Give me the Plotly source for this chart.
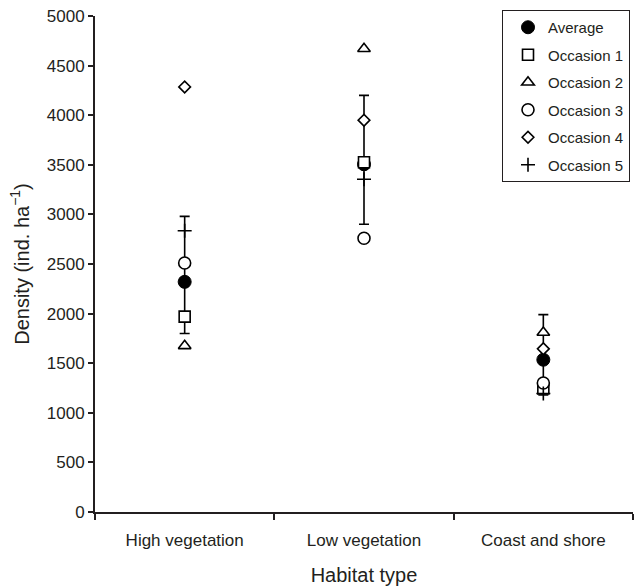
import plotly.graph_objects as go

categories = ["High vegetation", "Low vegetation", "Coast and shore"]
x_pos = [0, 1, 2]

average = [2320, 3505, 1535]
err_upper = [2980, 4200, 1990]
err_lower = [1800, 2900, 1180]

occasion1 = [1970, 3525, 1245]
occasion2 = [1675, 4670, 1810]
occasion3 = [2510, 2760, 1300]
occasion4 = [4285, 3950, 1645]
occasion5 = [2835, 3355, 1195]

err_plus = [u - a for u, a in zip(err_upper, average)]
err_minus = [a - l for a, l in zip(average, err_lower)]

fig = go.Figure()

fig.add_trace(go.Scatter(
    x=x_pos, y=average, mode="markers", name="Average",
    legendgroup="a",
    marker=dict(symbol="circle", size=13, color="black", line=dict(color="black", width=1)),
    error_y=dict(type="data", symmetric=False, array=err_plus, arrayminus=err_minus,
                 color="black", thickness=1.6, width=5),
))

occ_specs = [
    ("Occasion 1", occasion1, "square", 11),
    ("Occasion 2", occasion2, "triangle-up", 11),
    ("Occasion 3", occasion3, "circle", 12),
    ("Occasion 4", occasion4, "diamond", 9),
]
for i, (name, vals, sym, sz) in enumerate(occ_specs):
    fig.add_trace(go.Scatter(
        x=x_pos, y=vals, mode="markers", name=name, legendgroup="g%d" % i,
        marker=dict(symbol=sym, size=sz, color="white", line=dict(color="black", width=1.6)),
    ))

fig.add_trace(go.Scatter(
    x=x_pos, y=occasion5, mode="markers", name="Occasion 5", legendgroup="g5",
    marker=dict(symbol="cross-thin", size=10, color="black", line=dict(color="black", width=1.6)),
))

font_family = "Liberation Sans, Arial, sans-serif"

fig.update_layout(
    width=634, height=586,
    margin=dict(l=95, r=1, t=16, b=74),
    paper_bgcolor="white", plot_bgcolor="white",
    font=dict(family=font_family, color="#231f20"),
    showlegend=True,
    legend=dict(
        x=(502 - 95) / 538, y=(512 - 10) / 496, xanchor="left", yanchor="top",
        bordercolor="#231f20", borderwidth=1, bgcolor="white",
        font=dict(size=15, family=font_family, color="#231f20"),
        tracegroupgap=5, indentation=5,
    ),
    xaxis=dict(
        range=[-0.5, 2.5],
        tickmode="array", tickvals=x_pos, ticktext=categories,
        ticks="outside", ticklen=12, tickcolor="rgba(0,0,0,0)",
        tickfont=dict(size=17),
        showline=True, linecolor="#231f20", linewidth=2,
        showgrid=False, zeroline=False,
        minor=dict(tickmode="linear", tick0=-0.5, dtick=1, ticks="outside",
                   ticklen=6, tickwidth=2, tickcolor="#231f20", showgrid=False),
        title=dict(text="Habitat type", font=dict(size=20), standoff=22),
    ),
    yaxis=dict(
        range=[0, 5000], tickmode="linear", tick0=0, dtick=500,
        ticks="outside", ticklen=5, tickwidth=1.5, tickcolor="#231f20",
        tickfont=dict(size=17),
        showline=True, linecolor="#231f20", linewidth=2,
        showgrid=False, zeroline=False,
        title=dict(text="Density (ind. ha<sup>−1</sup>)", font=dict(size=20), standoff=12),
    ),
)

fig.write_html("out.html")
